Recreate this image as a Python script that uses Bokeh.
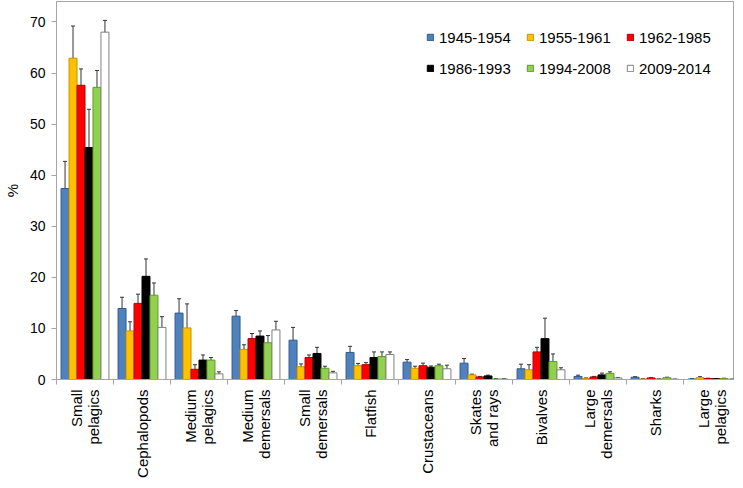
import numpy as np
from bokeh.plotting import figure
from bokeh.models import (ColumnDataSource, Whisker, TeeHead, FixedTicker,
                          Legend, LegendItem, Range1d)
from bokeh.embed import file_html
from bokeh.resources import INLINE

categories = ["Small\npelagics", "Cephalopods", "Medium\npelagics", "Medium\ndemersals",
              "Small\ndemersals", "Flatfish", "Crustaceans", "Skates\nand rays",
              "Bivalves", "Large\ndemersals", "Sharks", "Large\npelagics"]
periods = ["1945-1954", "1955-1961", "1962-1985", "1986-1993", "1994-2008", "2009-2014"]

v1945 = [37.4, 13.9, 13.0, 12.4, 7.7, 5.3, 3.4, 3.2, 2.1, 0.6, 0.45, 0.1]
v1955 = [62.9, 9.5, 10.1, 5.9, 2.5, 2.7, 2.2, 0.9, 1.9, 0.2, 0.1, 0.35]
v1962 = [57.6, 14.9, 2.0, 8.0, 4.3, 2.9, 2.7, 0.5, 5.4, 0.5, 0.3, 0.2]
v1986 = [45.4, 20.2, 3.8, 8.5, 5.1, 4.3, 2.4, 0.7, 8.0, 0.9, 0.05, 0.15]
v1994 = [57.2, 16.5, 3.8, 7.2, 2.2, 4.5, 2.7, 0.1, 3.5, 1.2, 0.35, 0.2]
v2009 = [68.0, 10.2, 1.1, 9.7, 1.3, 4.9, 2.1, 0.1, 1.9, 0.3, 0.05, 0.05]

e1945 = [5.3, 2.2, 2.8, 1.1, 2.5, 1.2, 0.5, 0.9, 0.9, 0.25, 0.1, 0.05]
e1955 = [6.3, 1.8, 4.7, 0.9, 0.55, 0.45, 0.4, 0.15, 1.0, 0.1, 0.05, 0.2]
e1962 = [3.2, 1.8, 0.9, 1.0, 0.5, 0.4, 0.5, 0.1, 0.9, 0.1, 0.05, 0.05]
e1986 = [7.5, 3.4, 1.0, 1.0, 1.2, 1.1, 0.25, 0.15, 4.0, 0.35, 0.02, 0.05]
e1994 = [3.3, 2.4, 0.5, 1.4, 0.4, 0.9, 0.3, 0.05, 1.5, 0.3, 0.1, 0.05]
e2009 = [2.3, 2.1, 0.4, 1.7, 0.3, 0.5, 0.7, 0.02, 0.4, 0.1, 0.02, 0.02]

y_ticks = [0, 10, 20, 30, 40, 50, 60, 70]

series_values = [v1945, v1955, v1962, v1986, v1994, v2009]
series_errors = [e1945, e1955, e1962, e1986, e1994, e2009]

fills = ["#4F81BD", "#FFC000", "#FF0000", "#000000", "#92D050", "#FFFFFF"]
outlines = ["#2F5A8C", "#C89200", "#B00000", "#000000", "#5E9B2A", "#7F7F7F"]

FONT = "Liberation Sans"
CAT_PX = 57.0
FRAME_W = 677
FRAME_H = 378
BAR_W = 0.14

p = figure(frame_width=FRAME_W, frame_height=FRAME_H,
           x_range=Range1d(0, FRAME_W / CAT_PX), y_range=Range1d(0, 74),
           output_backend="svg", toolbar_location=None,
           min_border_left=48, min_border_right=2, min_border_top=1,
           min_border_bottom=0)
p.xgrid.visible = False
p.ygrid.visible = False
p.outline_line_color = "#A6A6A6"
p.outline_line_width = 1

idx = np.arange(len(categories))
renderers = []
for j, (vals, errs) in enumerate(zip(series_values, series_errors)):
    vals = np.array(vals)
    errs = np.array(errs)
    src = ColumnDataSource(dict(
        x=idx + 0.5 + (j - 2.5) * BAR_W,
        top=vals,
        upper=vals + errs,
        lower=np.maximum(vals - errs, 0),
    ))
    r = p.vbar(x="x", top="top", bottom=0, width=BAR_W, source=src,
               fill_color=fills[j], line_color=outlines[j], line_width=1)
    renderers.append(r)
    w = Whisker(base="x", upper="upper", lower="lower", source=src,
                dimension="height", line_color="#333333", line_width=1,
                upper_head=TeeHead(size=4, line_color="#333333", line_width=1),
                lower_head=TeeHead(size=4, line_color="#333333", line_width=1))
    p.add_layout(w)

# axes
p.yaxis.ticker = FixedTicker(ticks=y_ticks)
p.yaxis.minor_tick_line_color = None
p.yaxis.major_tick_in = 0
p.yaxis.major_tick_out = 5
p.yaxis.major_label_text_font = FONT
p.yaxis.major_label_text_font_size = "14px"
p.yaxis.major_label_text_color = "#000000"
p.yaxis.major_label_standoff = 6
p.yaxis.axis_line_color = "#A6A6A6"
p.yaxis.major_tick_line_color = "#A6A6A6"
p.yaxis.axis_label = "%"
p.yaxis.axis_label_text_font = FONT
p.yaxis.axis_label_text_font_size = "15px"
p.yaxis.axis_label_text_font_style = "normal"
p.yaxis.axis_label_text_color = "#000000"
p.yaxis.axis_label_standoff = 6

centers = [float(i) + 0.5 for i in range(len(categories))]
p.xaxis.ticker = FixedTicker(ticks=centers, minor_ticks=[float(i) for i in range(len(categories) + 1)])
p.xaxis.major_label_overrides = {c: lab for c, lab in zip(centers, categories)}
p.xaxis.major_label_orientation = np.pi / 2
p.xaxis.major_tick_in = 0
p.xaxis.major_tick_out = 0
p.xaxis.minor_tick_in = 0
p.xaxis.minor_tick_out = 5
p.xaxis.minor_tick_line_color = "#A6A6A6"
p.xaxis.axis_line_color = "#A6A6A6"
p.xaxis.major_label_text_font = FONT
p.xaxis.major_label_text_font_size = "15px"
p.xaxis.major_label_text_line_height = 1.0
p.xaxis.major_label_text_color = "#000000"
p.xaxis.major_label_standoff = 5

# legends (two rows of three)
def make_legend(items, loc):
    leg = Legend(items=items, location=loc, orientation="horizontal",
                 border_line_color=None, background_fill_alpha=0,
                 padding=0, margin=0, spacing=15, label_standoff=5,
                 glyph_width=8, glyph_height=8, label_width=72, label_height=20,
                 label_text_font=FONT, label_text_font_size="15px",
                 label_text_color="#000000")
    return leg

items1 = [LegendItem(label=periods[k], renderers=[renderers[k]]) for k in range(3)]
items2 = [LegendItem(label=periods[k], renderers=[renderers[k]]) for k in range(3, 6)]
p.add_layout(make_legend(items1, (370, 332)), "center")
p.add_layout(make_legend(items2, (370, 301)), "center")

open("out.html", "w").write(file_html(p, INLINE))
